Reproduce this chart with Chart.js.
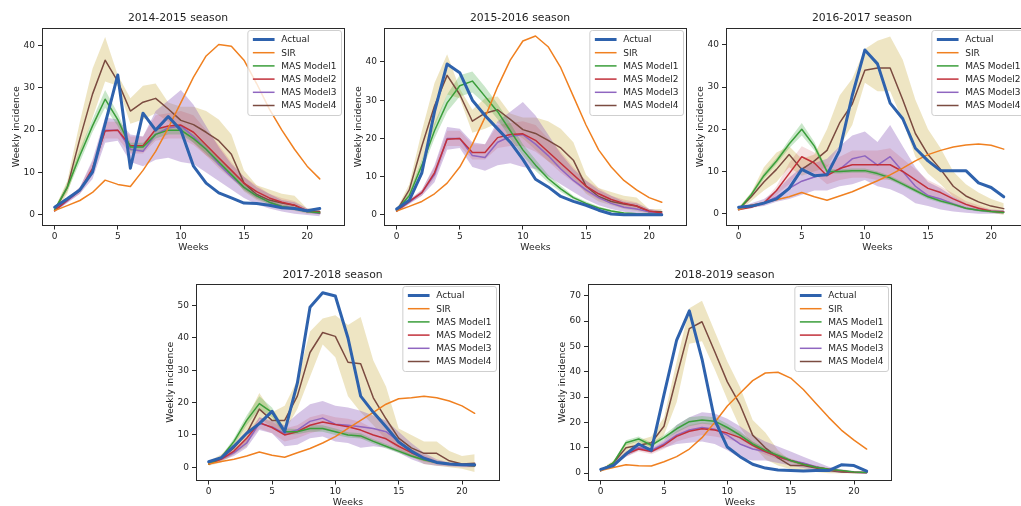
<!DOCTYPE html>
<html><head><meta charset="utf-8">
<script src="https://cdn.jsdelivr.net/npm/chart.js@4.4.0/dist/chart.umd.min.js"></script>
<style>
html,body{margin:0;padding:0;background:#fff;width:1021px;height:506px;overflow:hidden;position:relative}
canvas{position:absolute}
</style></head><body>
<canvas id="c1"></canvas><canvas id="c2"></canvas><canvas id="c3"></canvas><canvas id="c4"></canvas><canvas id="c5"></canvas>
<script>
// ---------- DATA ----------
const weeks = [0,1,2,3,4,5,6,7,8,9,10,11,12,13,14,15,16,17,18,19,20,21];
const seriesNames = ['Actual','SIR','MAS Model1','MAS Model2','MAS Model3','MAS Model4'];
const xTicks = [0,5,10,15,20];

// 2014-2015
const actual1415 = [1.8,3.8,5.9,10.1,21.5,33,11,24,20,23.2,20,11.5,7.5,5.2,4,2.8,2.7,2.3,1.7,1.5,1.0,1.5];
const sir1415    = [1.0,2.2,3.4,5.3,8.2,7.2,6.7,10.5,15,20.5,26.5,32.5,37.5,40.2,39.8,36.5,31,25,20,15.5,11.5,8.5];
const m1_1415    = [1.2,6.5,14,21,27.3,22.5,16,16,19,20,20,18,15.5,12.5,9.5,6.5,4.5,3,2,1.5,0.8,0.5];
const m1lo_1415  = [0.9,5.5,12.5,19.5,25.3,21,15,15,18,19,19,17,14.5,11.5,8.7,5.8,3.9,2.5,1.6,1.1,0.5,0.2];
const m1hi_1415  = [1.5,7.5,15.5,22.5,29.5,24,17,17,20,21,21,19,16.5,13.5,10.3,7.2,5.1,3.5,2.4,1.9,1.1,0.8];
const m2_1415    = [1.0,3.5,5.8,11,19.8,20,16.3,16.3,20.2,21,21.2,19.5,16.5,13.5,10.5,7.5,5.5,4,3,2.3,1,0.5];
const m2lo_1415  = [0.8,3,5,9.5,18,18,14.5,14.5,17.5,18,18,16.5,14,11,8.5,6,4,3,2,1.5,0.5,0.2];
const m2hi_1415  = [1.2,4,6.6,12.5,22,22,18.5,18.5,23.5,24,24.5,23.5,20,16.5,12.5,9,7,5,4,3.3,1.5,1];
const m3_1415    = [1,3.3,5.8,10.5,20,20,15.5,15,19,20.5,21,18.5,15.5,12,9,6.5,4.5,3,2,1.5,0.8,0.3];
const m3lo_1415  = [0.7,2.8,5,8.5,17,17.5,12.5,11.5,13,13.5,12.5,12,10,8,6,4,2.5,1.5,0.8,0.3,0,-0.3];
const m3hi_1415  = [1.3,3.8,6.5,13,23,22.5,19,18.5,24.5,27,29.5,26,21,16,12,9,6.5,5,3.5,3,1.5,1];
const m4_1415    = [1,6.5,18,28.5,36.5,31.5,24.5,26.6,27.5,25,22.3,21.3,19.5,17.5,14.3,7.5,4.8,3.5,2.8,2.3,0.8,0.8];
const m4lo_1415  = [0.5,5,14,23,31.5,30.5,21.5,22.5,24,22,20,17,14,12,9.5,5.5,3.5,2.5,1.5,1,0.3,0.3];
const m4hi_1415  = [1.5,8,22,34.5,42,33,27.5,30.5,31,26.5,25.5,25.5,24.5,22.5,19,10.5,7,6,5,4.5,1.5,1.5];
const yTicks1415 = [0,10,20,30,40];

// 2015-2016
const actual1516 = [1.5,3.8,11,27,39.5,37.2,30,26,22.5,19,14.5,9.3,7.3,4.8,3.5,2.5,1.2,0.2,0,0,0,0];
const sir1516    = [1.0,2.2,3.5,5.5,8.3,12.5,18.5,25.5,33.5,40.5,45.5,46.8,44,38.5,31,23.5,17,12.5,9,6.5,4.5,3.3];
const m1_1516    = [1.2,5,13,22,29.3,33.8,35,31,27,22,17,13,9.5,6.8,4.5,3,1.8,1,0.5,0.3,0.2,0];
const m1lo_1516  = [0.9,4,11.5,20,27,31,32,29,25,20,15.5,11.5,8.5,6,4,2.5,1.4,0.7,0.3,0.1,0,-0.2];
const m1hi_1516  = [1.5,6,14.5,24,31.5,36.5,37.5,33.5,29,24,18.5,14.5,10.5,7.6,5,3.5,2.2,1.3,0.7,0.5,0.4,0.2];
const m2_1516    = [1.0,3.5,5.8,11,19.8,20,16.3,16.3,20.2,21,21.2,19.5,16.5,13.5,10.5,7.5,5.5,4,3,2.3,1,0.5];
const m2lo_1516  = [0.8,3,5,9.5,18,18,14.5,14.5,17.5,18,18,16.5,14,11,8.5,6,4,3,2,1.5,0.5,0.2];
const m2hi_1516  = [1.2,4,6.6,12.5,22,22,18.5,18.5,23.5,24,24.5,23.5,20,16.5,12.5,9,7,5,4,3.3,1.5,1];
const m3_1516    = [1,3.3,5.8,10.5,20,20,15.5,15,19,20.5,21,18.5,15.5,12,9,6.5,4.5,3,2,1.5,0.8,0.3];
const m3lo_1516  = [0.7,2.8,5,8.5,17,17.5,12.5,11.5,13,13.5,12.5,12,10,8,6,4,2.5,1.5,0.8,0.3,0,-0.3];
const m3hi_1516  = [1.3,3.8,6.5,13,23,22.5,19,18.5,24.5,27,29.5,26,21,16,12,9,6.5,5,3.5,3,1.5,1];
const m4_1516    = [1,6.5,18,28.5,36.5,31.5,24.5,26.6,27.5,25,22.3,21.3,19.5,17.5,14.3,7.5,4.8,3.5,2.8,2.3,0.8,0.8];
const m4lo_1516  = [0.5,5,14,23,31.5,30.5,21.5,22.5,24,22,20,17,14,12,9.5,5.5,3.5,2.5,1.5,1,0.3,0.3];
const m4hi_1516  = [1.5,8,22,34.5,42,33,27.5,30.5,31,26.5,25.5,25.5,24.5,22.5,19,10.5,7,6,5,4.5,1.5,1.5];
const yTicks1516 = [0,10,20,30,40];

// 2016-2017
const actual1617 = [1.5,1.8,2.5,3.5,6,10.5,9,9.2,15,28,38.8,35.5,26.2,22.5,15.5,12.5,10.2,10.2,10.2,7.3,6.2,4];
const sir1617    = [1.0,2,2.6,3.3,4,5,4,3.2,4.2,5.2,6.5,7.8,9.2,10.8,12.5,14,15,15.8,16.3,16.5,16.2,15.3];
const m1_1617    = [1,4.5,9,12.5,16.5,20,16,10,10,10.2,10.2,9.5,8.5,7,5.5,4,3,2.2,1.3,0.8,0.5,0.3];
const m1lo_1617  = [0.8,4,8.3,11.8,15.5,18.5,15,9.5,9.5,9.7,9.7,9,8,6.5,5,3.5,2.6,1.8,1,0.5,0.2,0];
const m1hi_1617  = [1.2,5,9.7,13.2,17.5,21.5,17,10.5,10.5,10.7,10.7,10,9,7.5,6,4.5,3.4,2.6,1.6,1.1,0.8,0.6];
const m2_1617    = [1,1.5,2.5,5.5,9.5,13.5,12,9,10.7,11.6,11.6,11.6,11.6,10,8,6,5,3.5,2.2,1.3,0.6,0.4];
const m2lo_1617  = [0.8,1.2,2,4.5,7,11,9.5,7,8,8.5,8.5,8,8,7,5.5,4,3.5,2.3,1.3,0.7,0.2,0];
const m2hi_1617  = [1.2,1.8,3,6.5,12,16,14.5,11.5,13.5,15,15,15,15.5,13,10.5,8,6.5,4.8,3,2,1,0.8];
const m3_1617    = [1,2,2.5,4,6,7.7,8.7,9.5,10.5,13,13.7,11.5,13.5,10,6.5,4.3,3.5,2.3,1.3,0.8,0.6,0.5];
const m3lo_1617  = [0.7,1.5,1.8,2.8,3.5,4.5,5.5,5.5,6.5,7,8,6.5,5.8,4.5,2.5,1.8,1,0.5,0.2,0,0,0];
const m3hi_1617  = [1.3,2.5,3.5,5.5,8.5,11,12,13,16,18.5,19.5,17,21,16,11,7.5,6,4,2.5,1.5,1,0.8];
const m4_1617    = [1,4,7.5,10.5,14,10.5,12.5,15,21.5,26,34,34.5,34.5,27,19,14,10.5,6.5,4.2,2.8,1.8,1.2];
const m4lo_1617  = [0.5,3,5.5,7.5,11,9,10,11,16,21,31,29,29,22,13.5,9.5,7,4,2,1,0.3,-0.3];
const m4hi_1617  = [1.5,5,11,14.5,16,13,14,20,28,32,39,41,42,36.5,27,20,15.5,10,7,5,3.5,2.5];
const yTicks1617 = [0,10,20,30,40];

// 2017-2018
const actual1718 = [1.7,3,6.5,10.5,13.5,17.3,11,26,49.5,54,53,40,22,17,12.5,7.8,5,2.8,1.5,1,0.8,0.8];
const sir1718    = [1.0,1.8,2.5,3.5,4.7,3.7,3.1,4.5,5.8,7.5,9.5,12,14.5,17,19.5,21.2,21.5,22,21.5,20.5,19,16.7];
const m1_1718    = [1,3,8,14.5,19.7,17,11,11,12,12,11,10,9.7,8,6.5,5,3.5,2.3,1.5,1,0.7,0.5];
const m1lo_1718  = [0.8,2.5,7,13,18,15.5,10,10.2,11,11,10,9.2,8.9,7.3,5.8,4.4,3,1.9,1.1,0.7,0.4,0.2];
const m1hi_1718  = [1.2,3.5,9,16,22,18.5,12,11.8,13,13,12,10.8,10.5,8.7,7.2,5.6,4,2.7,1.9,1.3,1,0.8];
const m2_1718    = [1,2.5,5,9,13.8,12.3,10,11,13,14,13.2,12.5,11.5,10,8.8,6.5,4.5,2.8,1.5,1,0.7,0.5];
const m2lo_1718  = [0.8,2,4,7.5,12,10.5,8,9,10.5,11.5,11,10,9,8,7,5,3.3,1.8,0.9,0.5,0.3,0.2];
const m2hi_1718  = [1.2,3,6,10.5,15.5,14,12,13,15.5,16.5,15.5,15,14,12,10.5,8,5.7,3.8,2.1,1.5,1.1,0.8];
const m3_1718    = [1,2.5,4.5,7.5,13.6,12.5,10.5,11.5,14.2,15.2,13.3,13,12.5,12,11,8,5,2.8,1.5,1,0.6,0.4];
const m3lo_1718  = [0.7,2,3.5,6,11.5,10.5,6.5,7,9,9.5,8,7.5,6,6.5,6,4.5,2.5,1,0.5,0.2,0,0];
const m3hi_1718  = [1.3,3,5.5,9,15.5,14.5,13,16.5,19.5,20.5,19,18.5,17.5,16,14.5,11,7.5,4.5,2.5,1.5,1,0.8];
const m4_1718    = [1,2.8,6,10.5,18,14.5,14.5,22,35.5,41.7,40.5,32.5,32,21.5,15,9,6,4.3,4.3,2,1,1.2];
const m4lo_1718  = [0.5,1.5,4,6.5,15,12.5,11,18,28,38,34,22,17,13,8.5,5.5,3.5,1,0.5,0,-0.5,-1.5];
const m4hi_1718  = [1.8,4,8,15,23,17,19,27,42,46,47,44,46.5,33,25,12,10,8,8,5,3.5,4];
const yTicks1718 = [0,10,20,30,40,50];

// 2018-2019
const actual1819 = [1.5,3,7.5,11.5,9,31,52.5,64,45,21,10.3,6.5,3.5,2,1.2,1,0.8,1,1,3.3,3,0.8];
const sir1819    = [1.0,2.2,3.3,2.9,2.8,4.5,6.5,9.5,14,20,26.5,31.5,36.5,39.5,39.8,37.5,33,27.5,22,17,13,9.5];
const m1_1819    = [1,4,12,13.5,11,14,17.5,20.3,21,20.5,18,15,11.5,9,7,5,3.5,2.3,1.5,1,0.5,0.3];
const m1lo_1819  = [0.8,3.5,11,12.5,10,13,16,18.5,19.5,19,16.5,13.5,10.5,8,6.2,4.4,3,1.9,1.1,0.7,0.3,0.1];
const m1hi_1819  = [1.2,4.5,13,14.5,12,15,19,22,22.5,22,19.5,16.5,12.5,10,7.8,5.6,4,2.7,1.9,1.3,0.7,0.5];
const m2_1819    = [1,3.5,7.5,9.5,8.5,11,14.5,16.5,17.5,17,15.8,14,11,8.5,6.5,5,3.5,2.3,1.5,0.8,0.4,0.3];
const m2lo_1819  = [0.8,3,6.5,8.5,7.5,9.5,12.5,14,15,14.5,13.5,12,9.5,7.3,5.5,4.2,2.9,1.9,1.1,0.5,0.2,0.1];
const m2hi_1819  = [1.2,4,8.5,10.5,9.5,12.5,16.5,19,20,19.5,18,16,12.5,9.7,7.5,5.8,4.1,2.7,1.9,1.1,0.6,0.5];
const m3_1819    = [1,3.5,7.5,10,9,11.5,15,17,18,17.3,15,11.5,9.5,8.5,6.5,5,4,2.5,1.3,0.8,0.4,0.2];
const m3lo_1819  = [0.7,3,6.5,9,8,10,11.5,12,12.5,11.5,9,6,5,5,4,3,2,1,0.5,0.2,0.1,0];
const m3hi_1819  = [1.3,4,8.5,11,10,13,19,22,24,23.5,21.5,18.5,15,12.5,10.5,8.5,6.5,4.5,2.5,1.5,0.8,0.4];
const m4_1819    = [1,4,10,11,12,18.5,38,57,59.7,48,36,27,15,10,6,3,3,2,1,0.5,0.3,0.3];
const m4lo_1819  = [0.5,3,8,9.5,10,15,28,51,52,41,29,18,11,5.5,3,1.5,1,0.5,0,0,0,0];
const m4hi_1819  = [1.5,5,11.5,13,14.5,22,44,65,68,56,44,34,21,16,9,5,4,3,2,1,0.5,0.5];
const yTicks1819 = [0,10,20,30,40,50,60,70];

// ---------- STYLE / LAYOUT ----------
const FONT = "'DejaVu Sans', sans-serif";
const TXT = '#1e1e1e';
const COLORS = ['#2e62ad','#f08020','#3a9e3a','#c2303a','#8f66c0','#7b4b40'];
const LINEW = [3,1.5,1.5,1.5,1.5,1.5];
const BANDC = ['rgba(44,160,44,0.25)','rgba(190,50,60,0.16)','rgba(148,103,189,0.38)','rgba(205,180,80,0.34)'];

function pts(arr){ return arr.map((v,i)=>({x:weeks[i], y:v})); }

const framePlugin = {
  id:'frame',
  afterDatasetsDraw(chart){
    const a = chart.chartArea, ctx = chart.ctx;
    ctx.save(); ctx.strokeStyle = '#2a2a2a'; ctx.lineWidth = 1;
    ctx.strokeRect(Math.round(a.left)+0.5, Math.round(a.top)+0.5, Math.round(a.right-a.left)-1, Math.round(a.bottom-a.top)-1);
    ctx.restore();
  }
};
const legendPlugin = {
  id:'mplLegend',
  afterDraw(chart){
    const ctx = chart.ctx, a = chart.chartArea;
    ctx.save();
    ctx.font = "9px " + FONT;
    const tw = Math.max(...seriesNames.map(n=>ctx.measureText(n).width));
    const rowH = 13.2, padL = 5, handle = 21.7, gap = 6.7, padR = 5;
    const w = padL + handle + gap + tw + padR, h = 9*2 + rowH*5 + 1;
    const x = a.right - 3.5 - w, y = a.top + 2.5;
    ctx.beginPath();
    if (ctx.roundRect) ctx.roundRect(x, y, w, h, 2.5); else ctx.rect(x, y, w, h);
    ctx.fillStyle = 'rgba(255,255,255,0.8)'; ctx.fill();
    ctx.strokeStyle = '#cfcfcf'; ctx.lineWidth = 1; ctx.stroke();
    seriesNames.forEach((n,i)=>{
      const cy = y + 9 + i*rowH;
      ctx.beginPath(); ctx.strokeStyle = COLORS[i]; ctx.lineWidth = LINEW[i];
      ctx.moveTo(x+padL, cy); ctx.lineTo(x+padL+handle, cy); ctx.stroke();
      ctx.fillStyle = TXT; ctx.textBaseline = 'middle'; ctx.textAlign = 'left';
      ctx.fillText(n, x+padL+handle+gap, cy+0.5);
    });
    ctx.restore();
  }
};

function makePanel(id, geo, title, lines, bands, yTicks){
  const YW = 31, XH = 27.5, TOP = 28, RP = 4;
  const cv = document.getElementById(id);
  cv.width = YW + (geo.R - geo.L) + RP;
  cv.height = Math.round(TOP + (geo.B - geo.T) + XH);
  cv.style.left = (geo.L - YW) + 'px';
  cv.style.top = (geo.T - TOP) + 'px';
  const titleSize = 10.8, lh = titleSize*1.2;
  const pTop = TOP - geo.titleGap - lh/2;
  const pBot = TOP - lh - pTop;
  const ds = [];
  lines.forEach((arr,i)=>ds.push({label:seriesNames[i], data:pts(arr), borderColor:COLORS[i], borderWidth:LINEW[i],
    pointRadius:0, fill:false, tension:0, borderJoinStyle:'round', borderCapStyle:'round'}));
  bands.forEach((b,k)=>{
    ds.push({label:'lo'+k, data:pts(b[0]), borderColor:'rgba(0,0,0,0)', borderWidth:0, pointRadius:0, fill:false, tension:0});
    ds.push({label:'hi'+k, data:pts(b[1]), borderColor:'rgba(0,0,0,0)', borderWidth:0, pointRadius:0, fill:'-1', backgroundColor:BANDC[k], tension:0});
  });
  const tickFont = {family:FONT, size:9};
  const labFont = {family:FONT, size:9.3};
  new Chart(cv, {
    type:'line',
    data:{datasets:ds},
    options:{
      responsive:false, animation:false, devicePixelRatio:1,
      layout:{padding:{left:0, right:RP, top:0, bottom:0}},
      plugins:{
        legend:{display:false}, tooltip:{enabled:false},
        title:{display:true, text:title, color:TXT, font:{family:FONT, size:titleSize, weight:'normal'}, padding:{top:pTop, bottom:pBot}},
        filler:{propagate:false}
      },
      scales:{
        x:{type:'linear', min:-1, max:23,
          afterFit:s=>{s.height = XH;},
          afterBuildTicks:s=>{s.ticks = xTicks.map(v=>({value:v}));},
          grid:{display:true, drawOnChartArea:false, drawTicks:true, tickLength:4, color:'#2a2a2a'},
          border:{display:false},
          ticks:{color:TXT, font:tickFont, padding:2, maxRotation:0, autoSkip:false},
          title:{display:true, text:'Weeks', color:TXT, font:labFont, padding:0}},
        y:{type:'linear', min:geo.ymin, max:geo.ymax,
          afterFit:s=>{s.width = YW;},
          afterBuildTicks:s=>{s.ticks = yTicks.map(v=>({value:v}));},
          grid:{display:true, drawOnChartArea:false, drawTicks:true, tickLength:4, color:'#2a2a2a'},
          border:{display:false},
          ticks:{color:TXT, font:tickFont, padding:3, autoSkip:false},
          title:{display:true, text:'Weekly incidence', color:TXT, font:labFont, padding:0}}
      }
    },
    plugins:[framePlugin, legendPlugin]
  });
}

makePanel('c1', {L:42, R:345, T:28, B:225, ymin:-2.5, ymax:44.1, titleGap:10}, '2014-2015 season',
  [actual1415, sir1415, m1_1415, m2_1415, m3_1415, m4_1415],
  [[m1lo_1415,m1hi_1415],[m2lo_1415,m2hi_1415],[m3lo_1415,m3hi_1415],[m4lo_1415,m4hi_1415]], yTicks1415);
makePanel('c2', {L:384, R:687, T:28, B:225, ymin:-2.8, ymax:48.9, titleGap:10}, '2015-2016 season',
  [actual1516, sir1516, m1_1516, m2_1516, m3_1516, m4_1516],
  [[m1lo_1516,m1hi_1516],[m2lo_1516,m2hi_1516],[m3lo_1516,m3hi_1516],[m4lo_1516,m4hi_1516]], yTicks1516);
makePanel('c3', {L:726, R:1029, T:28, B:225, ymin:-2.8, ymax:44.0, titleGap:10}, '2016-2017 season',
  [actual1617, sir1617, m1_1617, m2_1617, m3_1617, m4_1617],
  [[m1lo_1617,m1hi_1617],[m2lo_1617,m2hi_1617],[m3lo_1617,m3hi_1617],[m4lo_1617,m4hi_1617]], yTicks1617);
makePanel('c4', {L:196, R:500, T:284, B:480, ymin:-4.1, ymax:56.7, titleGap:9}, '2017-2018 season',
  [actual1718, sir1718, m1_1718, m2_1718, m3_1718, m4_1718],
  [[m1lo_1718,m1hi_1718],[m2lo_1718,m2hi_1718],[m3lo_1718,m3hi_1718],[m4lo_1718,m4hi_1718]], yTicks1718);
makePanel('c5', {L:588, R:892, T:284, B:480, ymin:-2.9, ymax:74.6, titleGap:9}, '2018-2019 season',
  [actual1819, sir1819, m1_1819, m2_1819, m3_1819, m4_1819],
  [[m1lo_1819,m1hi_1819],[m2lo_1819,m2hi_1819],[m3lo_1819,m3hi_1819],[m4lo_1819,m4hi_1819]], yTicks1819);
</script>
</body></html>
